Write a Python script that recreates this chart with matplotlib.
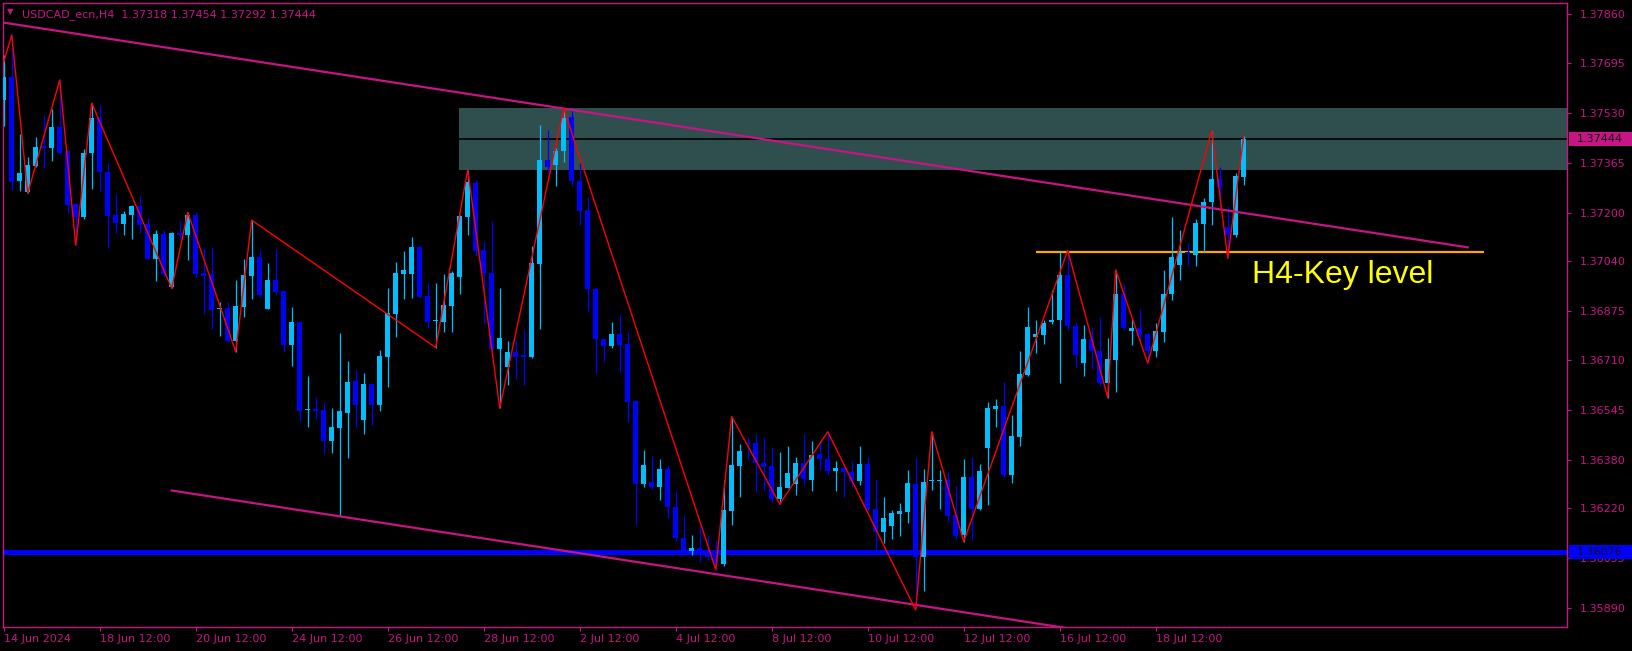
import numpy as np
import matplotlib
matplotlib.use("Agg")
import matplotlib.pyplot as plt
from matplotlib.patches import Rectangle
from matplotlib.transforms import blended_transform_factory

# USDCAD H4 candles (open, high, low, close)
opens = [1.37574, 1.37649, 1.37305, 1.37267, 1.37355, 1.37418, 1.37416, 1.37484, 1.37403, 1.37230,
         1.37187, 1.37399, 1.37514, 1.37335, 1.37193, 1.37164, 1.37193, 1.37222, 1.37163, 1.37047,
         1.37130, 1.36952, 1.37133, 1.37126, 1.37193, 1.37000, 1.36996, 1.36880, 1.36884, 1.36774,
         1.36887, 1.36991, 1.37053, 1.36881, 1.36977, 1.36939, 1.36762, 1.36836, 1.36546, 1.36549,
         1.36546, 1.36444, 1.36487, 1.36537, 1.36641, 1.36512, 1.36632, 1.36562, 1.36722, 1.36864,
         1.36998, 1.36998, 1.37087, 1.36924, 1.36841, 1.36839, 1.36891, 1.36988, 1.37187, 1.37299,
         1.37077, 1.37000, 1.36747, 1.36687, 1.36738, 1.36727, 1.36720, 1.37031, 1.37373, 1.37359,
         1.37403, 1.37517, 1.37306, 1.37209, 1.36946, 1.36780, 1.36759, 1.36797, 1.36764, 1.36575,
         1.36300, 1.36306, 1.36291, 1.36350, 1.36223, 1.36123, 1.36079, 1.36088, 1.36079, 1.36065,
         1.36035, 1.36211, 1.36361, 1.36437, 1.36435, 1.36369, 1.36360, 1.36250, 1.36289, 1.36299,
         1.36369, 1.36313, 1.36400, 1.36383, 1.36345, 1.36352, 1.36340, 1.36312, 1.36367, 1.36217,
         1.36143, 1.36163, 1.36202, 1.36209, 1.36301, 1.36057, 1.36309, 1.36309, 1.36314, 1.36198,
         1.36130, 1.36323, 1.36218, 1.36421, 1.36550, 1.36560, 1.36331, 1.36455, 1.36662, 1.36789,
         1.36795, 1.36836, 1.36843, 1.36994, 1.36825, 1.36701, 1.36782, 1.36742, 1.36635, 1.36710,
         1.36931, 1.36809, 1.36819, 1.36798, 1.36740, 1.36806, 1.36931, 1.37027, 1.37071, 1.37060,
         1.37163, 1.37234, 1.37312, 1.37152, 1.37127, 1.37318]
highs = [1.37723, 1.37789, 1.37461, 1.37386, 1.37452, 1.37524, 1.37543, 1.37640, 1.37410, 1.37233,
         1.37411, 1.37563, 1.37556, 1.37364, 1.37262, 1.37206, 1.37226, 1.37256, 1.37182, 1.37143,
         1.37143, 1.37136, 1.37173, 1.37201, 1.37201, 1.37085, 1.37085, 1.36905, 1.36904, 1.36977,
         1.37046, 1.37175, 1.37076, 1.37033, 1.37078, 1.36942, 1.36887, 1.36840, 1.36660, 1.36588,
         1.36568, 1.36554, 1.36800, 1.36708, 1.36680, 1.36667, 1.36636, 1.36744, 1.36951, 1.37036,
         1.37073, 1.37119, 1.37093, 1.36966, 1.36968, 1.36997, 1.37007, 1.37193, 1.37342, 1.37309,
         1.37104, 1.37173, 1.36951, 1.36776, 1.36776, 1.36811, 1.37088, 1.37489, 1.37474, 1.37414,
         1.37546, 1.37538, 1.37364, 1.37253, 1.36955, 1.36782, 1.36838, 1.36860, 1.36804, 1.36578,
         1.36413, 1.36393, 1.36383, 1.36363, 1.36277, 1.36197, 1.36131, 1.36162, 1.36131, 1.36111,
         1.36314, 1.36524, 1.36433, 1.36457, 1.36468, 1.36457, 1.36424, 1.36407, 1.36426, 1.36391,
         1.36466, 1.36443, 1.36446, 1.36474, 1.36377, 1.36354, 1.36377, 1.36427, 1.36389, 1.36316,
         1.36259, 1.36215, 1.36237, 1.36347, 1.36386, 1.36351, 1.36474, 1.36347, 1.36340, 1.36295,
         1.36383, 1.36389, 1.36366, 1.36574, 1.36582, 1.36638, 1.36530, 1.36742, 1.36887, 1.36845,
         1.36845, 1.36944, 1.37068, 1.37075, 1.36839, 1.36826, 1.36820, 1.36854, 1.36786, 1.37010,
         1.36964, 1.36850, 1.36880, 1.36804, 1.36834, 1.37010, 1.37184, 1.37143, 1.37097, 1.37180,
         1.37248, 1.37472, 1.37353, 1.37223, 1.37333, 1.37454]
lows = [1.37488, 1.37275, 1.37273, 1.37264, 1.37353, 1.37349, 1.37372, 1.37395, 1.37200, 1.37092,
        1.37180, 1.37279, 1.37272, 1.37084, 1.37134, 1.37127, 1.37114, 1.37132, 1.37047, 1.36975,
        1.36986, 1.36949, 1.37110, 1.37043, 1.36988, 1.36864, 1.36814, 1.36792, 1.36772, 1.36739,
        1.36855, 1.36915, 1.36919, 1.36881, 1.36932, 1.36739, 1.36693, 1.36508, 1.36490, 1.36515,
        1.36402, 1.36402, 1.36195, 1.36388, 1.36490, 1.36468, 1.36496, 1.36543, 1.36623, 1.36789,
        1.36915, 1.36918, 1.36916, 1.36819, 1.36753, 1.36806, 1.36803, 1.36931, 1.37126, 1.37058,
        1.36834, 1.36745, 1.36552, 1.36630, 1.36648, 1.36628, 1.36718, 1.36816, 1.37333, 1.37287,
        1.37369, 1.37289, 1.37159, 1.36875, 1.36668, 1.36706, 1.36751, 1.36673, 1.36507, 1.36164,
        1.36291, 1.36283, 1.36247, 1.36189, 1.36111, 1.36070, 1.36065, 1.36043, 1.36048, 1.36017,
        1.36028, 1.36164, 1.36258, 1.36383, 1.36275, 1.36278, 1.36242, 1.36234, 1.36286, 1.36264,
        1.36297, 1.36277, 1.36347, 1.36331, 1.36276, 1.36256, 1.36290, 1.36298, 1.36215, 1.36082,
        1.36104, 1.36119, 1.36129, 1.36171, 1.35888, 1.35947, 1.36281, 1.36218, 1.36176, 1.36119,
        1.36110, 1.36115, 1.36213, 1.36231, 1.36491, 1.36325, 1.36305, 1.36427, 1.36660, 1.36736,
        1.36765, 1.36831, 1.36637, 1.36812, 1.36687, 1.36660, 1.36684, 1.36624, 1.36587, 1.36607,
        1.36812, 1.36760, 1.36776, 1.36701, 1.36723, 1.36770, 1.36911, 1.36977, 1.37022, 1.37024,
        1.37071, 1.37160, 1.37223, 1.37049, 1.37121, 1.37292]
closes = [1.37651, 1.37303, 1.37331, 1.37358, 1.37418, 1.37416, 1.37484, 1.37398, 1.37226, 1.37187,
          1.37398, 1.37514, 1.37336, 1.37190, 1.37167, 1.37196, 1.37222, 1.37159, 1.37047, 1.37130,
          1.36998, 1.37133, 1.37126, 1.37193, 1.36998, 1.36991, 1.36878, 1.36885, 1.36774, 1.36890,
          1.36992, 1.37053, 1.36927, 1.36977, 1.36938, 1.36762, 1.36836, 1.36543, 1.36549, 1.36543,
          1.36444, 1.36489, 1.36542, 1.36638, 1.36562, 1.36632, 1.36562, 1.36725, 1.36866, 1.37000,
          1.37010, 1.37086, 1.36922, 1.36839, 1.36843, 1.36894, 1.37001, 1.37189, 1.37302, 1.37073,
          1.36999, 1.36747, 1.36785, 1.36738, 1.36723, 1.36720, 1.37033, 1.37373, 1.37353, 1.37405,
          1.37513, 1.37306, 1.37204, 1.36946, 1.36780, 1.36759, 1.36798, 1.36761, 1.36573, 1.36302,
          1.36363, 1.36291, 1.36350, 1.36225, 1.36122, 1.36080, 1.36088, 1.36065, 1.36059, 1.36037,
          1.36214, 1.36363, 1.36410, 1.36433, 1.36369, 1.36356, 1.36250, 1.36292, 1.36336, 1.36369,
          1.36316, 1.36396, 1.36383, 1.36345, 1.36352, 1.36339, 1.36312, 1.36367, 1.36217, 1.36143,
          1.36187, 1.36204, 1.36212, 1.36303, 1.36057, 1.36307, 1.36314, 1.36314, 1.36196, 1.36127,
          1.36323, 1.36218, 1.36344, 1.36552, 1.36560, 1.36331, 1.36460, 1.36666, 1.36821, 1.36798,
          1.36834, 1.36845, 1.36995, 1.36823, 1.36727, 1.36782, 1.36740, 1.36635, 1.36715, 1.36931,
          1.36819, 1.36819, 1.36795, 1.36740, 1.36808, 1.36931, 1.37054, 1.37071, 1.37066, 1.37165,
          1.37235, 1.37312, 1.37284, 1.37127, 1.37322, 1.37444]

# zigzag pivots (bar index, price)
zz_bars = [0, 1, 3, 7, 9, 11, 21, 23, 29, 31, 54, 58, 62, 70, 89, 91, 97, 103, 114, 116, 120,
           133, 138, 139, 143, 151, 153, 155]
zz_prices = [1.37700, 1.37789, 1.37264, 1.37640, 1.37092, 1.37563, 1.36949, 1.37201, 1.36739, 1.37175,
             1.36753, 1.37342, 1.36552, 1.37546, 1.36017, 1.36524, 1.36234, 1.36474, 1.35883, 1.36474,
             1.36110, 1.37075, 1.36587, 1.37010, 1.36701, 1.37472, 1.37049, 1.37454]

# drawn objects
upper_trend_bars = [-0.5, 183]
upper_trend_prices = [1.37832, 1.37085]
lower_trend_bars = [21, 140]
lower_trend_prices = [1.36279, 1.35794]
zone_start = 56.9
zone_top = 1.37546
zone_bottom = 1.37342
key_level = 1.37070
key_bars = [129, 185]
support_level = 1.36076
bid = 1.37444

ytick_values = [1.37860, 1.37695, 1.37530, 1.37365, 1.37200, 1.37040, 1.36875, 1.36710,
                1.36545, 1.36380, 1.36220, 1.36055, 1.35890]
xtick_bars = [0, 12, 24, 36, 48, 60, 72, 84, 96, 108, 120, 132, 144]
xtick_labels = ["14 Jun 2024", "18 Jun 12:00", "20 Jun 12:00", "24 Jun 12:00", "26 Jun 12:00",
                "28 Jun 12:00", "2 Jul 12:00", "4 Jul 12:00", "8 Jul 12:00", "10 Jul 12:00",
                "12 Jul 12:00", "16 Jul 12:00", "18 Jul 12:00"]

FRAME = "#C71585"
BULL = "#00BFFF"
BEAR = "#0000FF"
W, H = 1633, 651

fig = plt.figure(figsize=(W / 100, H / 100), dpi=100, facecolor="black")
ax = fig.add_axes([3 / W, 24 / H, 1564 / W, 624 / H], facecolor="black")
ax.set_xlim(-0.09, 195.41)
ax.set_ylim(1.358266, 1.37895)

o = np.array(opens)
h = np.array(highs)
l = np.array(lows)
c = np.array(closes)
idx = np.arange(len(o))
cols = np.where(c >= o, BULL, BEAR)

# zone + horizontal levels
ax.add_patch(Rectangle((zone_start, zone_bottom), 300, zone_top - zone_bottom,
                       facecolor="#2F4F4F", edgecolor="none", zorder=1))
ax.axhline(bid, color="black", lw=1.2, zorder=2)
ax.axhline(support_level, color="#0000FF", lw=3.6, zorder=2)
ax.hlines(key_level, key_bars[0], key_bars[1], color="#FFA500", lw=1.6, zorder=2)

# candles
ax.vlines(idx, l, h, colors=cols, lw=0.9, zorder=3)
body_low = np.minimum(o, c)
body_h = np.maximum(np.abs(c - o), 0.00004)
ax.bar(idx, body_h, width=0.62, bottom=body_low, color=cols, linewidth=0, zorder=3)

# trend lines and zigzag
ax.plot(upper_trend_bars, upper_trend_prices, color=FRAME, lw=1.6, zorder=4)
ax.plot(lower_trend_bars, lower_trend_prices, color=FRAME, lw=1.6, zorder=4)
ax.plot(zz_bars, zz_prices, color="#FF0000", lw=1.0, zorder=5)

ax.text(156, 1.36967, "H4-Key level", color="#FFFF00", fontsize=23,
        family=["Liberation Sans", "DejaVu Sans"], va="baseline", ha="left", zorder=6)

# axes styling
for sp in ax.spines.values():
    sp.set_color(FRAME)
    sp.set_linewidth(1.0)
ax.yaxis.tick_right()
ax.set_yticks(ytick_values)
ax.set_yticklabels(["%.5f" % v for v in ytick_values])
ax.set_xticks(xtick_bars)
ax.set_xticklabels(xtick_labels)
for lab in ax.get_xticklabels():
    lab.set_horizontalalignment("left")
ax.tick_params(axis="both", colors=FRAME, labelsize=8, length=3, width=0.8)
ax.tick_params(axis="y", pad=6)
ax.tick_params(axis="x", pad=2)

# price boxes on the right scale
tr = blended_transform_factory(fig.transFigure, ax.transData)
for price, face in [(bid, FRAME), (support_level, "#0000FF")]:
    ax.add_patch(Rectangle((1569 / W, price - 0.00024), 64 / W, 0.00048, transform=tr,
                           facecolor=face, edgecolor="none", clip_on=False, zorder=10))
    ax.text(1577 / W, price, "%.5f" % price, transform=tr, color="#111111", fontsize=8,
            va="center", ha="left", clip_on=False, zorder=11)

# header
fig.text(7 / W, 1 - 12 / H, "\u25bc", color=FRAME, fontsize=6, va="center", ha="left")
fig.text(22 / W, 1 - 17 / H, "USDCAD_ecn,H4  1.37318 1.37454 1.37292 1.37444",
         color=FRAME, fontsize=8, va="baseline", ha="left")

fig.savefig("out.png", dpi=100, facecolor="black")
